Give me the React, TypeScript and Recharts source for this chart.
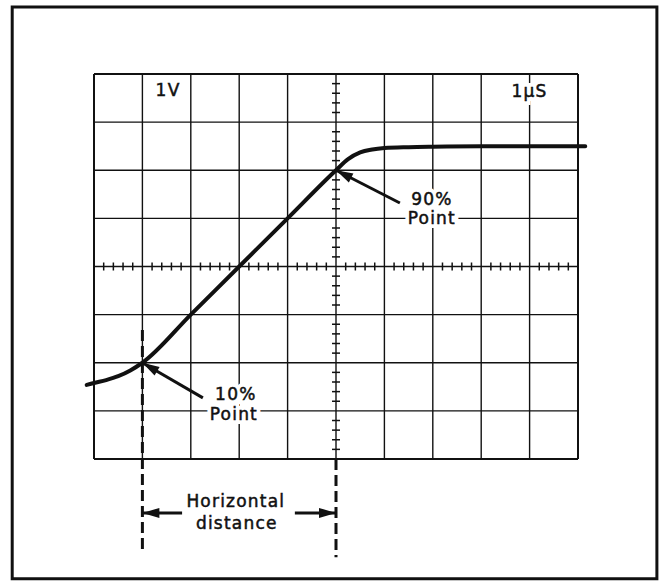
import { ComposedChart, Line, ReferenceArea, ReferenceLine, Scatter, XAxis, YAxis } from "recharts";

// page and graticule geometry (pixels)
const W = 662;
const H = 581;
const GRID = { left: 94, right: 578, top: 74, bottom: 459 };
const DIV_X = 10;
const DIV_Y = 8;
const KX = (GRID.right - GRID.left) / DIV_X;
const KY = (GRID.bottom - GRID.top) / DIV_Y;
const X_DOMAIN = [-GRID.left / KX, (W - GRID.left) / KX];
const Y_DOMAIN = [-(H - GRID.bottom) / KY, GRID.bottom / KY];

// rising edge trace, in graticule divisions
const traceX = [-0.15, 0, 0.25, 0.5, 0.75, 1, 2, 3, 4, 5, 5.25, 5.5, 5.75, 6, 6.5, 7, 8, 9, 10, 10.15];
const traceY = [1.54, 1.58, 1.64, 1.72, 1.84, 2.0, 3.0, 4.0, 5.0, 6.0, 6.23, 6.37, 6.43, 6.46, 6.48, 6.49, 6.5, 6.5, 6.5, 6.5];

// annotations
const labelText = ["1V", "1\u03bcS", "90%", "Point", "10%", "Point", "Horizontal", "distance"];
const labelX = [1.53, 9.0, 6.98, 6.98, 2.93, 2.89, 2.93, 2.95];
const labelY = [7.54, 7.52, 5.28, 4.88, 1.23, 0.81, -1.0, -1.45];

const arrowTipX = [5, 1, 1, 5];
const arrowTipY = [6, 2, -1.12, -1.12];
const arrowTailX = [6.32, 2.25, 1.82, 4.15];
const arrowTailY = [5.32, 1.27, -1.12, -1.12];

const markerX = [1, 5];
const markerTop = [2.68, 0];
const markerBottom = [-1.93, -2.04];

const frameX = [-1.69, 11.63];
const frameY = [-2.49, 9.39];

const trace = traceX.map((x, i) => ({ x, y: traceY[i] }));
const labels = labelText.map((text, i) => ({ x: labelX[i], y: labelY[i], text }));
const arrows = arrowTipX.map((x, i) => ({ x, y: arrowTipY[i], tx: arrowTailX[i], ty: arrowTailY[i] }));

const majorX = Array.from({ length: DIV_X + 1 }, (_, i) => i);
const majorY = Array.from({ length: DIV_Y + 1 }, (_, i) => i);
const minorX = Array.from({ length: DIV_X * 5 + 1 }, (_, i) => i / 5).filter((v) => v % 1 !== 0);
const minorY = Array.from({ length: DIV_Y * 5 + 1 }, (_, i) => i / 5).filter((v) => v % 1 !== 0);

const INK = "#111";
const TICK = 4;

function LabelShape(props: any) {
  const { cx, cy, payload } = props;
  const common = {
    x: cx,
    y: cy,
    textAnchor: "middle" as const,
    fontFamily: "DejaVu Sans, sans-serif",
    fontSize: 17,
    letterSpacing: 1.2,
  };
  return (
    <g>
      <text {...common} fill="#fff" stroke="#fff" strokeWidth={8}>
        {payload.text}
      </text>
      <text {...common} fill={INK} stroke={INK} strokeWidth={0.5}>
        {payload.text}
      </text>
    </g>
  );
}

function ArrowHead(props: any) {
  const { cx, cy, payload } = props;
  const dx = (payload.tx - payload.x) * KX;
  const dy = -(payload.ty - payload.y) * KY;
  const a = Math.atan2(dy, dx);
  const len = 17;
  const half = 5;
  const bx = cx + Math.cos(a) * len;
  const by = cy + Math.sin(a) * len;
  const px = -Math.sin(a) * half;
  const py = Math.cos(a) * half;
  return <polygon points={`${cx},${cy} ${bx + px},${by + py} ${bx - px},${by - py}`} fill={INK} />;
}

export default function App() {
  return (
    <div style={{ position: "absolute", left: 0, top: 0, background: "#fff" }}>
      <ComposedChart width={W} height={H} data={trace} margin={{ top: 0, right: 0, bottom: 0, left: 0 }}>
        <XAxis type="number" dataKey="x" domain={X_DOMAIN} allowDataOverflow hide />
        <YAxis type="number" dataKey="y" domain={Y_DOMAIN} allowDataOverflow hide />

        <ReferenceArea
          x1={frameX[0]}
          x2={frameX[1]}
          y1={frameY[0]}
          y2={frameY[1]}
          fill="none"
          stroke={INK}
          strokeWidth={3}
          ifOverflow="visible"
        />

        {majorX.map((v) => (
          <ReferenceLine
            key={`vx${v}`}
            segment={[{ x: v, y: 0 }, { x: v, y: DIV_Y }]}
            stroke={INK}
            strokeWidth={v === 0 || v === DIV_X ? 2 : 1.4}
          />
        ))}
        {majorY.map((v) => (
          <ReferenceLine
            key={`hy${v}`}
            segment={[{ x: 0, y: v }, { x: DIV_X, y: v }]}
            stroke={INK}
            strokeWidth={v === 0 || v === DIV_Y ? 2 : 1.4}
          />
        ))}
        {minorX.map((v) => (
          <ReferenceLine
            key={`mx${v}`}
            segment={[{ x: v, y: DIV_Y / 2 - TICK / KY }, { x: v, y: DIV_Y / 2 + TICK / KY }]}
            stroke={INK}
            strokeWidth={1.5}
          />
        ))}
        {minorY.map((v) => (
          <ReferenceLine
            key={`my${v}`}
            segment={[{ x: DIV_X / 2 - TICK / KX, y: v }, { x: DIV_X / 2 + TICK / KX, y: v }]}
            stroke={INK}
            strokeWidth={1.5}
          />
        ))}

        <Scatter data={labels} shape={LabelShape} isAnimationActive={false} />

        {markerX.map((v, i) => (
          <ReferenceLine
            key={`dash${v}`}
            segment={[{ x: v, y: markerTop[i] }, { x: v, y: markerBottom[i] }]}
            stroke={INK}
            strokeWidth={3}
            strokeDasharray="11 5"
          />
        ))}

        <Line
          type="monotone"
          dataKey="y"
          stroke={INK}
          strokeWidth={4}
          strokeLinecap="round"
          dot={false}
          activeDot={false}
          isAnimationActive={false}
        />

        {arrows.map((a, i) => (
          <ReferenceLine
            key={`arr${i}`}
            segment={[{ x: a.tx, y: a.ty }, { x: a.x, y: a.y }]}
            stroke={INK}
            strokeWidth={3}
          />
        ))}
        <Scatter data={arrows} shape={ArrowHead} isAnimationActive={false} />
      </ComposedChart>
    </div>
  );
}
